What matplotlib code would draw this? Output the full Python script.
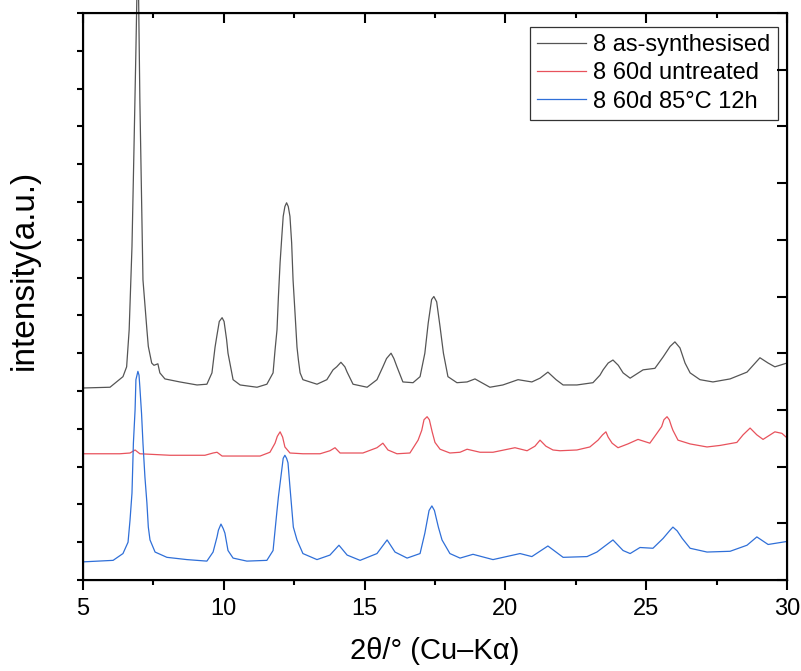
import numpy as np
import matplotlib
matplotlib.use("Agg")
import matplotlib.pyplot as plt
from matplotlib.ticker import MultipleLocator, NullFormatter

plt.rcParams['font.family'] = ['Liberation Sans', 'DejaVu Sans']

# 2theta (deg) and stacked intensity (a.u.)
x_as = [5.00, 5.96, 6.42, 6.55, 6.64, 6.74, 6.81, 6.88, 6.95, 7.02, 7.13, 7.27, 7.32, 7.44, 7.52,
        7.66, 7.73, 7.91, 8.44, 9.05, 9.40, 9.58, 9.69, 9.75, 9.84, 9.94, 10.01, 10.10, 10.15,
        10.33, 10.58, 11.18, 11.53, 11.75, 11.82, 11.89, 11.94, 12.00, 12.06, 12.11, 12.17, 12.23,
        12.29, 12.35, 12.41, 12.46, 12.53, 12.60, 12.65, 12.71, 12.81, 13.06, 13.31, 13.66, 13.88,
        14.01, 14.16, 14.30, 14.38, 14.59, 15.09, 15.44, 15.65, 15.78, 15.94, 16.04, 16.15, 16.36,
        16.72, 16.97, 17.14, 17.26, 17.38, 17.46, 17.56, 17.68, 17.80, 17.96, 18.28, 18.64, 18.92,
        19.45, 19.91, 20.45, 20.94, 21.23, 21.51, 21.80, 22.05, 22.54, 23.11, 23.36, 23.47, 23.65,
        23.82, 24.01, 24.18, 24.43, 24.89, 25.31, 25.60, 25.85, 26.02, 26.20, 26.38, 26.56, 26.91,
        27.37, 27.98, 28.58, 29.04, 29.33, 29.57, 30.00]
y_as = [2.04, 2.05, 2.19, 2.32, 2.81, 3.91, 5.19, 6.52, 7.97, 5.85, 3.47, 2.81, 2.59, 2.37, 2.34,
        2.36, 2.24, 2.16, 2.12, 2.08, 2.09, 2.24, 2.58, 2.72, 2.92, 2.97, 2.92, 2.68, 2.50,
        2.15, 2.08, 2.05, 2.09, 2.24, 2.54, 2.81, 3.25, 3.70, 4.04, 4.31, 4.44, 4.49,
        4.44, 4.31, 3.96, 3.47, 3.03, 2.58, 2.41, 2.24, 2.15, 2.12, 2.09, 2.15, 2.28,
        2.32, 2.38, 2.32, 2.25, 2.09, 2.05, 2.15, 2.32, 2.43, 2.50, 2.43, 2.32, 2.12,
        2.11, 2.19, 2.50, 2.90, 3.21, 3.25, 3.18, 2.85, 2.50, 2.19, 2.11, 2.12, 2.16,
        2.05, 2.08, 2.15, 2.12, 2.17, 2.25, 2.15, 2.08, 2.08, 2.11, 2.21, 2.28, 2.37,
        2.41, 2.34, 2.24, 2.17, 2.28, 2.30, 2.45, 2.59, 2.65, 2.57, 2.37, 2.24, 2.15,
        2.12, 2.16, 2.25, 2.44, 2.37, 2.32, 2.37]

x_60d = [5.00, 6.31, 6.67, 6.85, 7.02, 8.09, 9.33, 9.62, 9.76, 9.94, 11.29, 11.64, 11.82, 11.90,
         12.00, 12.09, 12.17, 12.35, 12.81, 13.42, 13.77, 13.95, 14.13, 14.94, 15.44, 15.65, 15.83,
         16.15, 16.61, 16.90, 17.03, 17.11, 17.22, 17.30, 17.40, 17.50, 17.68, 18.03, 18.39, 18.64,
         19.10, 19.56, 20.34, 20.77, 21.05, 21.23, 21.44, 21.69, 21.94, 22.54, 23.00, 23.29, 23.45,
         23.57, 23.65, 23.79, 24.00, 24.35, 24.71, 25.13, 25.38, 25.55, 25.63, 25.74, 25.82, 25.90,
         25.95, 26.13, 26.56, 27.16, 27.62, 28.22, 28.44, 28.69, 28.93, 29.15, 29.57, 29.82, 30.00]
y_60d = [1.17, 1.17, 1.18, 1.22, 1.17, 1.15, 1.15, 1.18, 1.19, 1.14, 1.14, 1.19, 1.31, 1.40,
         1.46, 1.39, 1.26, 1.18, 1.17, 1.17, 1.21, 1.25, 1.18, 1.18, 1.25, 1.31, 1.22,
         1.17, 1.18, 1.35, 1.48, 1.62, 1.66, 1.62, 1.46, 1.32, 1.23, 1.18, 1.19, 1.23,
         1.19, 1.19, 1.25, 1.21, 1.27, 1.35, 1.27, 1.22, 1.21, 1.22, 1.26, 1.35, 1.42,
         1.46, 1.39, 1.31, 1.25, 1.30, 1.36, 1.31, 1.44, 1.53, 1.62, 1.66, 1.62, 1.53,
         1.48, 1.35, 1.30, 1.26, 1.28, 1.32, 1.42, 1.51, 1.42, 1.36, 1.46, 1.44, 1.38]

x_85c = [5.00, 6.07, 6.42, 6.60, 6.67, 6.74, 6.79, 6.85, 6.88, 6.95, 6.99, 7.02, 7.08, 7.13, 7.20,
         7.27, 7.32, 7.38, 7.56, 7.98, 8.69, 9.40, 9.62, 9.76, 9.81, 9.90, 9.98, 10.04, 10.15,
         10.33, 10.82, 11.53, 11.75, 11.89, 11.94, 12.00, 12.07, 12.11, 12.17, 12.23, 12.28, 12.35,
         12.42, 12.47, 12.60, 12.81, 13.31, 13.77, 14.09, 14.38, 14.84, 15.44, 15.80, 16.08, 16.51,
         16.97, 17.14, 17.29, 17.39, 17.48, 17.62, 17.75, 18.03, 18.39, 18.85, 19.56, 20.52, 20.94,
         21.51, 22.05, 22.90, 23.25, 23.82, 24.18, 24.43, 24.78, 25.24, 25.60, 25.85, 25.95, 26.10,
         26.28, 26.56, 27.16, 27.98, 28.58, 28.93, 29.33, 30.00]
y_85c = [-0.26, -0.24, -0.15, 0.00, 0.29, 0.65, 1.31, 1.75, 2.15, 2.26, 2.21, 2.05, 1.70, 1.31, 0.86,
         0.52, 0.20, 0.03, -0.13, -0.20, -0.23, -0.25, -0.13, 0.07, 0.16, 0.24, 0.18, 0.12, -0.11,
         -0.21, -0.25, -0.24, -0.11, 0.42, 0.60, 0.78, 0.99, 1.11, 1.15, 1.11, 1.05, 0.73,
         0.42, 0.20, 0.03, -0.15, -0.23, -0.17, -0.04, -0.17, -0.24, -0.15, 0.03, -0.13, -0.21,
         -0.15, 0.12, 0.42, 0.48, 0.42, 0.20, 0.03, -0.15, -0.21, -0.16, -0.23, -0.15, -0.19,
         -0.05, -0.20, -0.19, -0.13, 0.03, -0.11, -0.15, -0.07, -0.08, 0.05, 0.16, 0.20, 0.15,
         0.05, -0.08, -0.13, -0.12, -0.04, 0.07, -0.03, 0.01]

labels = ["8 as-synthesised", "8 60d untreated", "8 60d 85°C 12h"]
colors = ["#555555", "#e8525c", "#2f6fd8"]

fig = plt.figure(figsize=(8.01, 6.71), dpi=100)
ax = fig.add_axes([0.1036, 0.1356, 0.8789, 0.845])

for xs, ys, lab, c in zip([x_as, x_60d, x_85c], [y_as, y_60d, y_85c], labels, colors):
    ax.plot(xs, ys, color=c, lw=0.9, label=lab, clip_on=False)

ax.set_xlim(5, 30)
ax.set_ylim(-0.5, 7.0)
ax.xaxis.set_major_locator(MultipleLocator(5))
ax.xaxis.set_minor_locator(MultipleLocator(2.5))
ax.yaxis.set_major_locator(MultipleLocator(1))
ax.yaxis.set_minor_locator(MultipleLocator(0.5))
ax.yaxis.set_major_formatter(NullFormatter())
ax.tick_params(axis='x', which='major', direction='out', length=7.2, width=1.5, labelsize=17, pad=6)
ax.tick_params(axis='x', which='minor', direction='out', length=3.6, width=1.5)
ax.tick_params(axis='y', which='major', direction='out', length=7.9, width=1.5)
ax.tick_params(axis='y', which='minor', direction='out', length=4.3, width=1.5)
for s in ax.spines.values():
    s.set_linewidth(1.5)

# top ticks point inwards
axt = ax.twiny()
axt.set_xlim(5, 30)
axt.xaxis.set_major_locator(MultipleLocator(5))
axt.xaxis.set_minor_locator(MultipleLocator(2.5))
axt.xaxis.set_major_formatter(NullFormatter())
axt.tick_params(axis='x', which='major', direction='in', length=7.2, width=1.5)
axt.tick_params(axis='x', which='minor', direction='in', length=3.6, width=1.5)
axt.set_yticks([])

# right ticks point inwards, own spacing
axr = ax.twinx()
axr.set_ylim(0, 10)
axr.yaxis.set_major_locator(MultipleLocator(1))
axr.yaxis.set_major_formatter(NullFormatter())
axr.tick_params(axis='y', which='major', direction='in', length=7.2, width=1.5)

ax.set_xlabel("2θ/° (Cu–Kα)", fontsize=21, labelpad=12)
ax.set_ylabel("intensity(a.u.)", fontsize=24)
ax.yaxis.set_label_coords(-0.061, 0.547)

leg = ax.legend(loc='upper right', bbox_to_anchor=(0.987, 0.975), borderaxespad=0,
                fontsize=17, handlelength=2.1, labelspacing=0.26, handletextpad=0.3,
                borderpad=0.3, fancybox=False, framealpha=1)
leg.get_frame().set_edgecolor('#333333')
leg.get_frame().set_linewidth(0.9)
leg.set_zorder(5)

fig.savefig("out.png", dpi=100)
